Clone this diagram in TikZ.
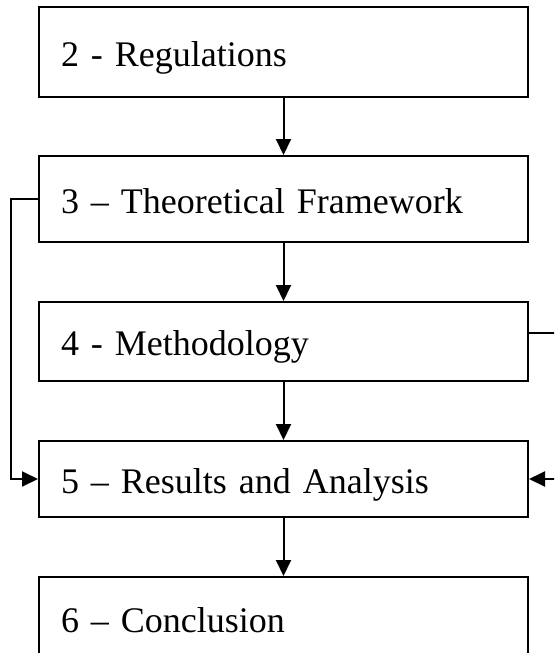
\documentclass[tikz,border=0pt]{standalone}
\usepackage{fontspec}
\setmainfont{Liberation Serif}
\usetikzlibrary{arrows.meta}

\begin{document}
\begin{tikzpicture}[x=1pt, y=-1pt,
    stagebox/.style={draw, line width=2pt, text width=445pt, align=left,
      inner xsep=22pt, inner ysep=0pt, text height=34pt, text depth=6pt,
      font=\fontsize{36}{43}\selectfont},
    flow/.style={line width=2pt, -{Triangle[length=16pt, width=15pt]}}]
      \useasboundingbox (0, 0) rectangle (554, 653);
      \clip (0, 0) rectangle (554, 653);

      \node[stagebox, minimum height=90pt] (regs) at (283.5, 52) {2 - Regulations};
      \node[stagebox, minimum height=86pt] (theory) at (283.5, 199) {3 -- Theoretical Framework};
      \node[stagebox, minimum height=79pt] (method) at (283.5, 341.5) {4 - Methodology};
      \node[stagebox, minimum height=76pt] (results) at (283.5, 479) {5 -- Results and Analysis};
      \node[stagebox, minimum height=82pt] (concl) at (283.5, 618) {6 -- Conclusion};

      \draw[flow] (regs.south) -- (theory.north);
      \draw[flow] (theory.south) -- (method.north);
      \draw[flow] (method.south) -- (results.north);
      \draw[flow] (results.south) -- (concl.north);

      % side loops into the results box
      \draw[flow] (theory.west) -- ++(-27, 0) |- (results.west);
      \draw[flow] ([yshift=8.5pt]method.east) -- ++(40, 0) |- (results.east);
    \end{tikzpicture}
\end{document}
